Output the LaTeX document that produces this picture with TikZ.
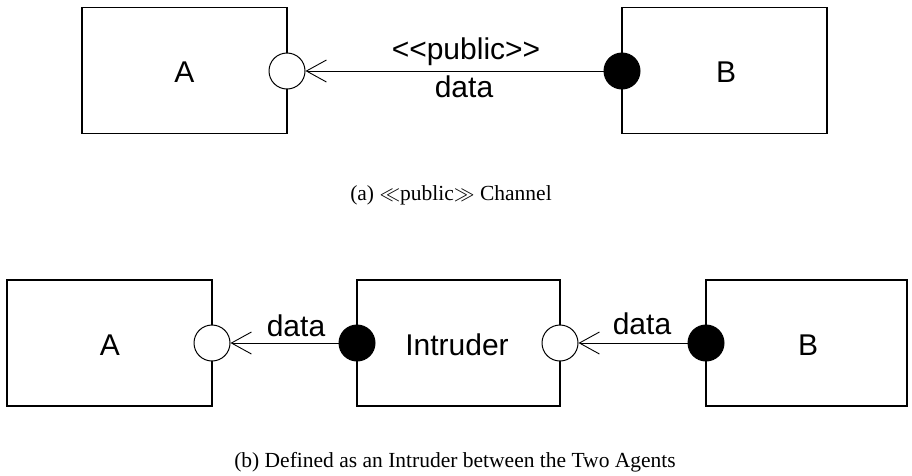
\documentclass[tikz,border=0pt]{standalone}
\usepackage{fontspec}
\setmainfont{Liberation Serif}
\newfontfamily\boxfont{Liberation Sans}
\usetikzlibrary{arrows.meta}
\begin{document}
\begin{tikzpicture}[x=1pt,y=-1pt,
  agent/.style={draw,line width=1.1pt,minimum width=#1,minimum height=126pt,inner sep=0pt},
  agent/.default=205pt,
  openport/.style={circle,draw,fill=white,line width=1pt,minimum size=36pt,inner sep=0pt},
  fullport/.style={circle,draw,fill=black,line width=1pt,minimum size=36pt,inner sep=0pt},
  flow/.style={line width=0.9pt,-{Straight Barb[length=20pt,width=22pt,line width=0.9pt]}},
  lbl/.style={font=\boxfont\fontsize{30}{34}\selectfont,inner sep=0pt},
  captext/.style={font=\fontsize{21.5}{25}\selectfont,inner sep=0pt}]
\useasboundingbox (0,0) rectangle (912,475);
% (a)
\node[agent] (a1) at (184.5,70.5) {};
\node[lbl] (ta1) at (184.5,72) {A};
\node[agent] (b1) at (724.5,70.5) {};
\node[lbl] (tb1) at (726,72) {B};
\node[openport] (oa1) at (287,71) {};
\node[fullport] (fb1) at (622,71) {};
\draw[flow] (fb1) -- (oa1);
\node[lbl] (l1) at (466,52) {<{}<public>{}>};
\node[lbl] (l2) at (464,87) {data};
\node[captext] (capa) at (451,195) {(a) $\ll$public$\gg$ Channel};
% (b)
\node[agent] (a2) at (109.5,343) {};
\node[lbl] (ta2) at (110,345) {A};
\node[agent=203pt] (i2) at (458.5,343) {};
\node[lbl] (ti2) at (457,345) {Intruder};
\node[agent=201pt] (b2) at (806.5,343) {};
\node[lbl] (tb2) at (808,345) {B};
\node[openport] (oa2) at (212,343) {};
\node[fullport] (fi2) at (357,343) {};
\node[openport] (oi2) at (560,343) {};
\node[fullport] (fb2) at (706,343) {};
\draw[flow] (fi2) -- (oa2);
\draw[flow] (fb2) -- (oi2);
\node[lbl] (l3) at (296,326) {data};
\node[lbl] (l4) at (642,324) {data};
\node[captext] (capb) at (455,462) {(b) Defined as an Intruder between the Two Agents};
\end{tikzpicture}
\end{document}
